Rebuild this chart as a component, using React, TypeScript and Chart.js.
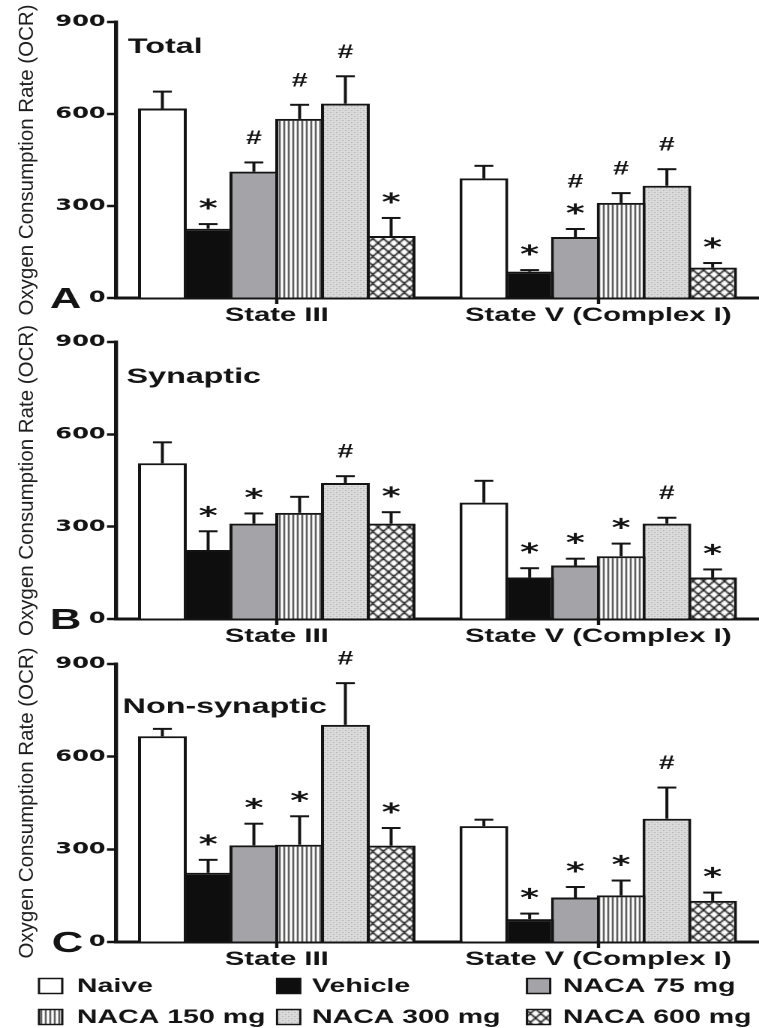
import React, { useEffect, useRef } from 'react';
import { Chart, registerables } from 'chart.js';

Chart.register(...registerables);

// ---------------- data ----------------
const categories = ['State III', 'State V (Complex I)'];
const seriesNames = ['Naive', 'Vehicle', 'NACA 75 mg', 'NACA 150 mg', 'NACA 300 mg', 'NACA 600 mg'];
const yTickValues = [0, 300, 600, 900];
const yAxisTitle = 'Oxygen Consumption Rate (OCR)';
const panelTitles = ['Total', 'Synaptic', 'Non-synaptic'];
const panelLetters = ['A', 'B', 'C'];

// rows = series (Naive, Vehicle, 75, 150, 300, 600); columns = categories
const totalMean = [[618, 390], [226, 86], [412, 199], [584, 310], [634, 366], [202, 99]];
const totalErr = [[55, 41], [15, 5], [30, 26], [46, 32], [89, 54], [59, 15]];
const totalMarks = [['', ''], ['*', '*'], ['#', '*#'], ['#', '#'], ['#', '#'], ['*', '*']];

const synapticMean = [[506, 378], [224, 135], [310, 174], [345, 204], [442, 310], [310, 135]];
const synapticErr = [[68, 71], [61, 30], [33, 22], [52, 41], [22, 19], [37, 26]];
const synapticMarks = [['', ''], ['*', '*'], ['*', '*'], ['', '*'], ['#', '#'], ['*', '*']];

const nonSynMean = [[666, 375], [224, 74], [313, 144], [315, 151], [703, 399], [312, 133]];
const nonSynErr = [[24, 21], [42, 18], [70, 34], [92, 48], [135, 101], [57, 27]];
const nonSynMarks = [['', ''], ['*', '*'], ['*', '*'], ['*', '*'], ['#', '#'], ['*', '*']];

const PANEL_DATA = [
  { mean: totalMean, err: totalErr, marks: totalMarks },
  { mean: synapticMean, err: synapticErr, marks: synapticMarks },
  { mean: nonSynMean, err: nonSynErr, marks: nonSynMarks },
];

// ---------------- styling / layout ----------------
const STRETCH = 1.5;
const PAGE_W = 759;
const PAGE_H = 1028;
const LOGICAL_W = Math.round(PAGE_W / STRETCH);
const INK = '#141414';
const SANS = '"Liberation Sans", Arial, Helvetica, sans-serif';
const FILL_KINDS = ['white', 'black', 'gray', 'vlines', 'dots', 'xhatch'];

const Y_AXIS_W = 116 / STRETCH;
const TITLE_SIZE = 20.5;
const TITLE_PAD = 6;
const TITLE_CX = (TITLE_SIZE * 1.2) / 2 + TITLE_PAD;
const CAT_W = (LOGICAL_W - Y_AXIS_W) / 2;
const SLOT = 30.5;
const CAT_PCT = (6 * SLOT) / CAT_W;
const BAR_PCT = (SLOT + 2) / SLOT;
const CAP_HALF = 6.3;
const ERR_LINE = 2;
const STAR_FONT = `bold 24px "DejaVu Sans", ${SANS}`;
const HASH_FONT = `bold 19px ${SANS}`;

const PANEL_LAYOUT = [
  { top: 0, height: 330, chartTop: 22, chartBottom: 298, letterX: 33.3, letterY: 308, titleX: 85.3, titleY: 53, legend: false },
  { top: 320, height: 330, chartTop: 22, chartBottom: 299, letterX: 33.3, letterY: 309, titleX: 84.4, titleY: 63, legend: false },
  { top: 640, height: 388, chartTop: 24, chartBottom: 302, letterX: 34.5, letterY: 312, titleX: 81.8, titleY: 73, legend: true },
];

const LEG_SWATCH_X = [26, 184.7, 351.3];
const LEG_TEXT_X = [51.3, 208, 375.3];
const LEG_ROW_Y = [346, 377];
const SW_W = 15.5;
const SW_H = 15;
const LEGEND_FONT = `bold 19px ${SANS}`;

function makeFill(ctx: CanvasRenderingContext2D, kind: string): string | CanvasPattern {
  if (kind === 'white') return '#ffffff';
  if (kind === 'black') return '#0e0e0e';
  if (kind === 'gray') return '#a4a4a8';
  const c = document.createElement('canvas');
  const t = c.getContext('2d') as CanvasRenderingContext2D;
  if (kind === 'vlines') {
    c.width = 3;
    c.height = 4;
    t.fillStyle = '#ffffff';
    t.fillRect(0, 0, 3, 4);
    t.fillStyle = '#2a2a2a';
    t.fillRect(0, 0, 1, 4);
  } else if (kind === 'dots') {
    c.width = 4;
    c.height = 4;
    t.fillStyle = '#e2e2e2';
    t.fillRect(0, 0, 4, 4);
    t.fillStyle = '#9a9a9a';
    t.fillRect(0, 0, 1, 1);
    t.fillRect(2, 2, 1, 1);
    t.fillStyle = '#c4c4c4';
    t.fillRect(2, 0, 1, 1);
    t.fillRect(0, 2, 1, 1);
  } else {
    c.width = 7;
    c.height = 9;
    t.fillStyle = '#ffffff';
    t.fillRect(0, 0, 7, 9);
    t.strokeStyle = '#1a1a1a';
    t.lineWidth = 1.3;
    t.beginPath();
    for (const dx of [-7, 0, 7]) {
      t.moveTo(dx, 0);
      t.lineTo(dx + 7, 9);
      t.moveTo(dx + 7, 0);
      t.lineTo(dx, 9);
    }
    t.stroke();
  }
  return ctx.createPattern(c, 'repeat') as CanvasPattern;
}

// y-axis title is condensed in the original: undo the horizontal stretch for it only
const unstretchTitlePlugin = {
  id: 'unstretchTitle',
  beforeDraw(chart: any) {
    const sc = chart.scales.y;
    if (!sc || sc.__unstretched) return;
    const orig = sc.drawTitle;
    sc.drawTitle = function (this: any) {
      const c = this.ctx;
      const cx = this.left + TITLE_CX;
      c.save();
      c.translate(cx, 0);
      c.scale(1 / STRETCH, 1);
      c.translate(-cx, 0);
      orig.call(this);
      c.restore();
    };
    sc.__unstretched = true;
  },
};

const errorBarsPlugin = {
  id: 'errorBars',
  afterDatasetsDraw(chart: any) {
    const ctx = chart.ctx;
    const ys = chart.scales.y;
    ctx.save();
    chart.data.datasets.forEach((ds: any, di: number) => {
      const meta = chart.getDatasetMeta(di);
      meta.data.forEach((bar: any, i: number) => {
        const v = ds.data[i];
        const e = ds.errors[i];
        const yBar = ys.getPixelForValue(v);
        const yTop = ys.getPixelForValue(v + e);
        ctx.strokeStyle = INK;
        ctx.lineWidth = ERR_LINE;
        ctx.beginPath();
        ctx.moveTo(bar.x, yBar);
        ctx.lineTo(bar.x, yTop);
        ctx.stroke();
        ctx.beginPath();
        ctx.moveTo(bar.x - CAP_HALF, yTop);
        ctx.lineTo(bar.x + CAP_HALF, yTop);
        ctx.stroke();
        let cy = yTop;
        Array.from((ds.marks && ds.marks[i]) || '').forEach((sym: any, k: number) => {
          cy = k === 0 ? yTop - (sym === '#' ? 25 : 20) : cy - 28;
          ctx.font = sym === '#' ? HASH_FONT : STAR_FONT;
          const m = ctx.measureText(sym);
          const base = cy + (m.actualBoundingBoxAscent - m.actualBoundingBoxDescent) / 2;
          ctx.fillStyle = INK;
          ctx.textAlign = 'center';
          ctx.textBaseline = 'alphabetic';
          ctx.fillText(sym, bar.x, base);
        });
      });
    });
    ctx.restore();
  },
};

const panelTextPlugin = {
  id: 'panelText',
  afterDraw(chart: any, _a: any, opts: any) {
    const ctx = chart.ctx;
    ctx.save();
    ctx.fillStyle = INK;
    ctx.textAlign = 'left';
    ctx.textBaseline = 'alphabetic';
    ctx.font = `bold 29px ${SANS}`;
    ctx.fillText(opts.letter, opts.letterX, opts.letterY);
    ctx.font = `bold 21.5px ${SANS}`;
    ctx.fillText(opts.title, opts.titleX, opts.titleY);
    ctx.restore();
  },
};

const legendPlugin = {
  id: 'panelLegend',
  afterDraw(chart: any, _a: any, opts: any) {
    if (!opts.show) return;
    const ctx = chart.ctx;
    ctx.save();
    chart.data.datasets.forEach((ds: any, i: number) => {
      const col = i % 3;
      const row = Math.floor(i / 3);
      const cy = LEG_ROW_Y[row];
      const sx = LEG_SWATCH_X[col];
      ctx.fillStyle = ds.backgroundColor;
      ctx.fillRect(sx, cy - SW_H / 2, SW_W, SW_H);
      ctx.strokeStyle = INK;
      ctx.lineWidth = 1.5;
      ctx.strokeRect(sx, cy - SW_H / 2, SW_W, SW_H);
      ctx.font = LEGEND_FONT;
      ctx.fillStyle = INK;
      ctx.textAlign = 'left';
      ctx.textBaseline = 'middle';
      ctx.fillText(ds.label, LEG_TEXT_X[col], cy + 1);
    });
    ctx.restore();
  },
};

function Panel({ idx }: { idx: number }) {
  const ref = useRef<HTMLCanvasElement>(null);
  const lay = PANEL_LAYOUT[idx];
  useEffect(() => {
    const canvas = ref.current as HTMLCanvasElement;
    const ctx = canvas.getContext('2d') as CanvasRenderingContext2D;
    const fills = FILL_KINDS.map((k) => makeFill(ctx, k));
    const { mean, err, marks } = PANEL_DATA[idx];
    const chart = new Chart(canvas, {
      type: 'bar',
      data: {
        labels: categories,
        datasets: seriesNames.map((name, i) => ({
          label: name,
          data: mean[i],
          errors: err[i],
          marks: marks[i],
          backgroundColor: fills[i],
          borderColor: INK,
          borderWidth: 2,
          borderSkipped: 'start',
          categoryPercentage: CAT_PCT,
          barPercentage: BAR_PCT,
        })) as any,
      },
      options: {
        responsive: false,
        animation: false,
        devicePixelRatio: 2,
        layout: { padding: { top: lay.chartTop, left: 0, right: 0, bottom: 0 } },
        plugins: {
          legend: { display: false },
          tooltip: { enabled: false },
          title: { display: false },
          panelText: {
            letter: panelLetters[idx],
            title: panelTitles[idx],
            letterX: lay.letterX,
            letterY: lay.letterY,
            titleX: lay.titleX,
            titleY: lay.titleY,
          },
          panelLegend: { show: lay.legend },
        } as any,
        scales: {
          x: {
            type: 'category',
            offset: true,
            grid: {
              offset: false,
              drawOnChartArea: false,
              drawTicks: true,
              tickLength: 6,
              tickWidth: 2.2,
              tickColor: INK,
            },
            border: { display: true, width: 3, color: INK },
            ticks: {
              padding: 0,
              color: INK,
              autoSkip: false,
              maxRotation: 0,
              font: { family: SANS, weight: 'bold', size: 19.5 },
            },
            afterFit: (s: any) => {
              s.height = lay.height - lay.chartBottom;
            },
          },
          y: {
            min: 0,
            max: 900,
            afterBuildTicks: (s: any) => {
              s.ticks = yTickValues.map((v) => ({ value: v }));
            },
            grid: {
              drawOnChartArea: false,
              drawTicks: true,
              tickLength: 6,
              tickWidth: 2.5,
              tickColor: INK,
            },
            border: { display: true, width: 2.7, color: INK },
            ticks: {
              padding: 1,
              color: INK,
              font: { family: '"DejaVu Sans", sans-serif', weight: 'bold', size: 16 },
            },
            title: {
              display: true,
              text: yAxisTitle,
              color: '#1e1e1e',
              font: { family: SANS, size: TITLE_SIZE, weight: 'normal' },
              padding: { top: TITLE_PAD, bottom: 0 },
            },
            afterFit: (s: any) => {
              s.width = Y_AXIS_W;
            },
          },
        } as any,
      },
      plugins: [unstretchTitlePlugin, errorBarsPlugin, panelTextPlugin, legendPlugin] as any,
    });
    return () => chart.destroy();
  }, [idx]);
  return (
    <canvas
      ref={ref}
      width={LOGICAL_W}
      height={lay.height}
      style={{
        position: 'absolute',
        left: 0,
        top: lay.top,
        width: PAGE_W + 'px',
        height: lay.height + 'px',
        display: 'block',
      }}
    />
  );
}

export default function App() {
  return (
    <div
      style={{
        position: 'absolute',
        left: 0,
        top: 0,
        width: PAGE_W,
        height: PAGE_H,
        background: '#ffffff',
        overflow: 'hidden',
      }}
    >
      {PANEL_LAYOUT.map((_, i) => (
        <Panel key={i} idx={i} />
      ))}
    </div>
  );
}
